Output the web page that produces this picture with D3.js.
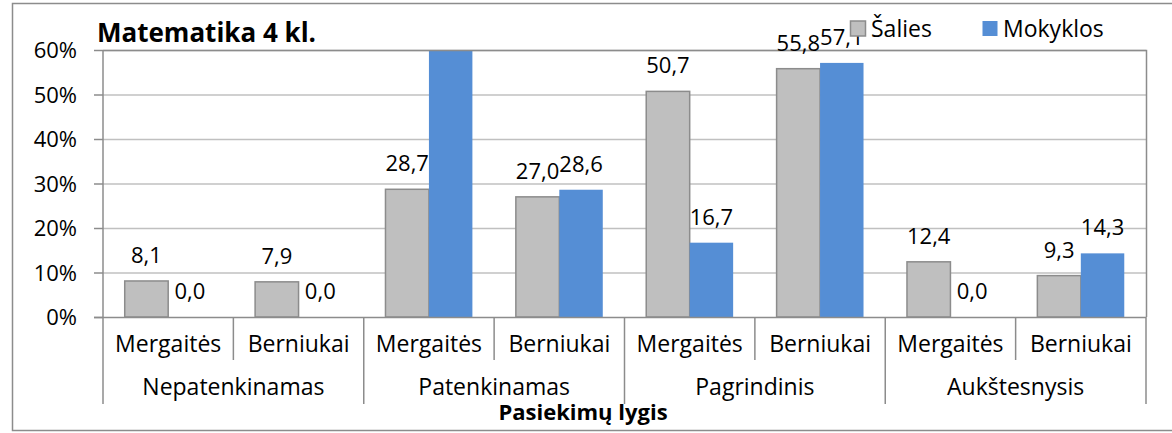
<!DOCTYPE html>
<html><head><meta charset="utf-8">
<script src="https://cdn.jsdelivr.net/npm/d3@7"></script>
<style>
body{margin:0;background:#fff;}
svg text{font-family:"Open Sans","Noto Sans",sans-serif;fill:#000;}
</style></head>
<body><svg id="c" width="1172" height="433"></svg>
<script>
const groups = ["Nepatenkinamas","Patenkinamas","Pagrindinis","Aukštesnysis"];
const subs = ["Mergaitės","Berniukai"];
const seriesNames = ["Šalies","Mokyklos"];
const salies   = [8.1, 7.9, 28.7, 27.0, 50.7, 55.8, 12.4, 9.3];
const mokyklos = [0.0, 0.0, 83.3, 28.6, 16.7, 57.1, 0.0, 14.3];
const yTicks = [0,10,20,30,40,50,60];
const colors = ["#bfbfbf","#558ed5"];
const strokes = ["#8c8c8c","#8db3e2"];

const svg = d3.select("#c");
const L=103,R=1146,T=50,B=317;
const FS=23;

svg.append("rect").attr("x",12.5).attr("y",3.5).attr("width",1170).attr("height",427)
  .attr("fill","#fff").attr("stroke","#8c8c8c").attr("stroke-width",1.5);

const cats=[];groups.forEach(g=>subs.forEach(s=>cats.push(g+"|"+s)));
const x = d3.scaleBand().domain(cats).range([L,R]).paddingInner(0).paddingOuter(0);
const xs = d3.scaleBand().domain(seriesNames).range([0,x.bandwidth()]).paddingInner(0).paddingOuter(0.5);
const y = d3.scaleLinear().domain([0,60]).range([B,T]);

svg.append("g").selectAll("line").data(yTicks.filter(v=>v>0)).join("line")
  .attr("x1",L).attr("x2",R).attr("y1",d=>y(d)+0.5).attr("y2",d=>y(d)+0.5)
  .attr("stroke","#c0c0c0").attr("stroke-width",1.5);

svg.append("clipPath").attr("id","pc").append("rect").attr("x",L).attr("y",T).attr("width",R-L).attr("height",B-T);

const data=[];
cats.forEach((c,i)=>{data.push({c,s:0,v:salies[i]});data.push({c,s:1,v:mokyklos[i]});});

svg.append("g").attr("clip-path","url(#pc)").selectAll("rect").data(data).join("rect")
  .attr("x",d=>x(d.c)+xs(seriesNames[d.s]))
  .attr("width",xs.bandwidth())
  .attr("y",d=>y(d.v)).attr("height",d=>B-y(d.v))
  .attr("fill",d=>colors[d.s]).attr("stroke",d=>d.s===0?strokes[0]:"none").attr("stroke-width",1.5);

svg.append("path").attr("d",`M${L},${T+0.5}H${R+0.5}V${B}`).attr("fill","none").attr("stroke","#8c8c8c").attr("stroke-width",1.5);

const ya = d3.axisLeft(y).tickValues(yTicks).tickFormat(d=>d+"%").tickSize(9).tickPadding(17);
const yg = svg.append("g").attr("transform",`translate(${L},0)`).call(ya);
yg.select(".domain").attr("stroke","#8c8c8c").attr("stroke-width",1.5).attr("d",`M0,${T}V${B}`);
yg.selectAll(".tick line").attr("stroke","#8c8c8c").attr("stroke-width",1.5);
yg.selectAll("text").attr("font-size",22).attr("font-family","Open Sans").attr("fill","#000").attr("dy","0.35em");

svg.append("line").attr("x1",L-9).attr("x2",R).attr("y1",B+0.5).attr("y2",B+0.5).attr("stroke","#8c8c8c").attr("stroke-width",1.5);
cats.forEach((c,i)=>{
  const xx = x(c);
  svg.append("line").attr("x1",xx).attr("x2",xx).attr("y1",B).attr("y2",i%2===0?404:360).attr("stroke","#8c8c8c").attr("stroke-width",1.5);
});
svg.append("line").attr("x1",R).attr("x2",R).attr("y1",B).attr("y2",404).attr("stroke","#8c8c8c").attr("stroke-width",1.5);

svg.append("g").selectAll("text").data(cats).join("text")
  .attr("x",d=>x(d)+x.bandwidth()/2).attr("y",352).attr("text-anchor","middle").attr("font-size",FS)
  .text(d=>d.split("|")[1]);
svg.append("g").selectAll("text").data(groups).join("text")
  .attr("x",g=>x(g+"|"+subs[0])+x.bandwidth()).attr("y",395).attr("text-anchor","middle").attr("font-size",FS)
  .text(g=>g);
svg.append("text").attr("x",583).attr("y",420).attr("text-anchor","middle").attr("font-size",22).attr("font-weight","bold").text("Pasiekimų lygis");

svg.append("g").selectAll("text").data(data.filter(d=>d.v<=60)).join("text")
  .attr("x",d=>x(d.c)+xs(seriesNames[d.s])+xs.bandwidth()/2)
  .attr("y",d=>y(d.v)-18)
  .attr("text-anchor","middle").attr("font-size",22)
  .text(d=>d.v.toFixed(1).replace(".",","));

svg.append("text").attr("x",97).attr("y",42).attr("font-size",26).attr("font-weight","bold").text("Matematika 4 kl.");

const lg = svg.append("g");
const lx=[850,982];
seriesNames.forEach((s,i)=>{
  lg.append("rect").attr("x",lx[i]+0.5).attr("y",21).attr("width",15).attr("height",15)
    .attr("fill",colors[i]).attr("stroke",i===0?strokes[0]:"none").attr("stroke-width",1.5);
  lg.append("text").attr("x",lx[i]+21).attr("y",37).attr("font-size",FS).text(s);
});
</script></body></html>
